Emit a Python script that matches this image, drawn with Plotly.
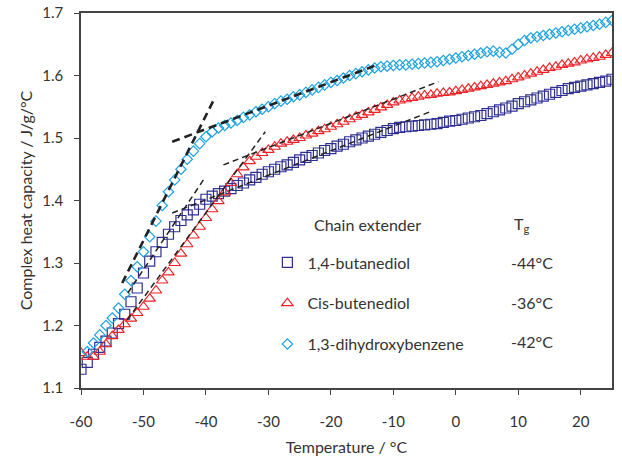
import plotly.graph_objects as go

# ---- data ----
temp_sq = list(range(-60, 26))
cp_butanediol = [
    1.130, 1.141, 1.154, 1.165, 1.175, 1.188, 1.203, 1.218, 1.238, 1.260,
    1.284, 1.303, 1.318, 1.333, 1.346, 1.358, 1.368, 1.377, 1.385, 1.394,
    1.402, 1.407, 1.411, 1.415, 1.419, 1.424, 1.428, 1.433, 1.437, 1.442,
    1.446, 1.450, 1.454, 1.457, 1.461, 1.465, 1.469, 1.472, 1.476, 1.480,
    1.483, 1.487, 1.490, 1.494, 1.497, 1.500, 1.503, 1.506, 1.509, 1.512,
    1.515, 1.517, 1.518, 1.519, 1.520, 1.521, 1.522, 1.523, 1.525, 1.527,
    1.528, 1.530, 1.532, 1.534, 1.536, 1.539, 1.542, 1.545, 1.548, 1.551,
    1.555, 1.558, 1.561, 1.564, 1.567, 1.570, 1.573, 1.576, 1.579, 1.581,
    1.583, 1.585, 1.587, 1.589, 1.591, 1.594,
]

temp_tr = list(range(-60, 26))
cp_butenediol = [
    1.156, 1.150, 1.150, 1.158, 1.170, 1.183, 1.193, 1.202, 1.211, 1.220,
    1.230, 1.243, 1.256, 1.272, 1.285, 1.300, 1.315, 1.330, 1.344, 1.358,
    1.372, 1.386, 1.399, 1.413, 1.428, 1.442, 1.453, 1.463, 1.470, 1.476,
    1.481, 1.486, 1.491, 1.494, 1.497, 1.500, 1.504, 1.507, 1.511, 1.514,
    1.518, 1.522, 1.526, 1.530, 1.534, 1.537, 1.541, 1.545, 1.549, 1.553,
    1.557, 1.560, 1.562, 1.564, 1.566, 1.568, 1.569, 1.571, 1.572, 1.573,
    1.575, 1.577, 1.579, 1.581, 1.583, 1.585, 1.587, 1.589, 1.591, 1.594,
    1.597, 1.600, 1.603, 1.606, 1.609, 1.612, 1.614, 1.617, 1.619, 1.621,
    1.624, 1.626, 1.628, 1.630, 1.633, 1.636,
]

temp_di = list(range(-59, 26))
cp_dihydroxybenzene = [
    1.158, 1.172, 1.185, 1.200, 1.212, 1.228, 1.250, 1.272, 1.294, 1.318,
    1.342, 1.367, 1.392, 1.414, 1.433, 1.450, 1.466, 1.479, 1.491, 1.502,
    1.510, 1.516, 1.520, 1.524, 1.528, 1.533, 1.537, 1.542, 1.546, 1.550,
    1.555, 1.559, 1.562, 1.566, 1.569, 1.573, 1.577, 1.581, 1.585, 1.589,
    1.592, 1.596, 1.600, 1.603, 1.606, 1.609, 1.612, 1.614, 1.615, 1.616,
    1.617, 1.617, 1.618, 1.619, 1.620, 1.621, 1.622, 1.624, 1.626, 1.628,
    1.630, 1.632, 1.634, 1.636, 1.638, 1.639, 1.637, 1.636, 1.642, 1.650,
    1.656, 1.660, 1.662, 1.664, 1.666, 1.668, 1.670, 1.672, 1.674, 1.676,
    1.678, 1.680, 1.682, 1.685, 1.688,
]

series_names = ["1,4-butanediol", "Cis-butenediol", "1,3-dihydroxybenzene"]
tg_labels = ["-44°C", "-36°C", "-42°C"]

# tangent lines used for the Tg construction (endpoints)
tan_di_steep_x = [-53.4, -38.5]
tan_di_steep_y = [1.268, 1.566]
tan_di_flat_x = [-45.4, -12.6]
tan_di_flat_y = [1.494, 1.617]
tan_sq_steep_x = [-52.5, -40.4]
tan_sq_steep_y = [1.252, 1.433]
tan_sq_flat_x = [-45.4, -4.1]
tan_sq_flat_y = [1.380, 1.542]
tan_tr_steep_x = [-52.6, -30.5]
tan_tr_steep_y = [1.209, 1.510]
tan_tr_flat_x = [-37.2, -2.8]
tan_tr_flat_y = [1.457, 1.590]

x_ticks = [-60, -50, -40, -30, -20, -10, 0, 10, 20]
y_ticks = [1.1, 1.2, 1.3, 1.4, 1.5, 1.6, 1.7]

FONT = "Lato"
TXT = "#333333"
SQ_C = "#2f2f90"
TR_C = "#ee2226"
DI_C = "#1ea2e2"

fig = go.Figure()

fig.add_trace(go.Scatter(
    x=temp_sq, y=cp_butanediol, mode="markers", name=series_names[0],
    legendgroup="a",
    marker=dict(symbol="square-open", size=10, color=SQ_C, line=dict(width=1.2, color=SQ_C)),
))
fig.add_trace(go.Scatter(
    x=temp_tr, y=cp_butenediol, mode="markers", name=series_names[1],
    legendgroup="b",
    marker=dict(symbol="triangle-up-open", size=10, color=TR_C, line=dict(width=1.2, color=TR_C)),
))
fig.add_trace(go.Scatter(
    x=temp_di, y=cp_dihydroxybenzene, mode="markers", name=series_names[2],
    legendgroup="c",
    marker=dict(symbol="diamond-open", size=8, color=DI_C, line=dict(width=1.2, color=DI_C)),
))

thin = dict(color="#222222", width=1.5, dash="6px,4px")
thick = dict(color="#222222", width=2.6, dash="8px,5px")
for xs, ys, st in [
    (tan_di_steep_x, tan_di_steep_y, thick),
    (tan_di_flat_x, tan_di_flat_y, thick),
    (tan_sq_steep_x, tan_sq_steep_y, thin),
    (tan_sq_flat_x, tan_sq_flat_y, thin),
    (tan_tr_steep_x, tan_tr_steep_y, thin),
    (tan_tr_flat_x, tan_tr_flat_y, thin),
]:
    fig.add_trace(go.Scatter(x=xs, y=ys, mode="lines", line=st,
                             showlegend=False, hoverinfo="skip"))

# legend header and Tg column
fig.add_annotation(text="Chain extender", x=0.435, y=0.435, xref="paper", yref="paper",
                   xanchor="left", yanchor="middle", showarrow=False,
                   font=dict(family=FONT, size=16, color=TXT))
fig.add_annotation(text="T<sub>g</sub>", x=0.812, y=0.435, xref="paper", yref="paper",
                   xanchor="left", yanchor="middle", showarrow=False,
                   font=dict(family=FONT, size=16, color=TXT))
for lab, yy in zip(tg_labels, [0.336, 0.229, 0.123]):
    fig.add_annotation(text=lab, x=0.806, y=yy, xref="paper", yref="paper",
                       xanchor="left", yanchor="middle", showarrow=False,
                       font=dict(family=FONT, size=16, color=TXT))

fig.update_layout(
    width=622, height=461,
    margin=dict(l=81, r=10, t=13, b=73, autoexpand=False),
    paper_bgcolor="white", plot_bgcolor="white",
    font=dict(family=FONT, size=15, color=TXT),
    showlegend=True,
    legend=dict(x=0.351, y=0.38, xanchor="left", yanchor="top",
                bgcolor="rgba(0,0,0,0)", borderwidth=0,
                font=dict(family=FONT, size=16, color=TXT),
                tracegroupgap=17, itemwidth=30),
)
fig.update_xaxes(
    range=[-60, 25], tickvals=x_ticks, ticktext=[str(v) for v in x_ticks],
    showgrid=False, zeroline=False, automargin=False,
    showline=True, linecolor="#444444", linewidth=1.5, mirror=True,
    ticks="outside", ticklen=5, tickcolor="#444444", tickwidth=1.2,
    ticklabelstandoff=14,
    title=dict(text="Temperature / °C", font=dict(family=FONT, size=16, color=TXT), standoff=13),
)
fig.update_yaxes(
    range=[1.1, 1.7], tickvals=y_ticks, ticktext=[f"{v:.1f}" for v in y_ticks],
    showgrid=False, zeroline=False, automargin=False,
    showline=True, linecolor="#444444", linewidth=1.5, mirror=True,
    ticks="outside", ticklen=5, tickcolor="#444444", tickwidth=1.2,
    ticklabelstandoff=8,
    title=dict(text="Complex heat capacity / J/g/°C", font=dict(family=FONT, size=16, color=TXT), standoff=6),
)

fig.write_html("out.html", config={"displayModeBar": False},
               post_script="document.body.style.margin='0px';")
